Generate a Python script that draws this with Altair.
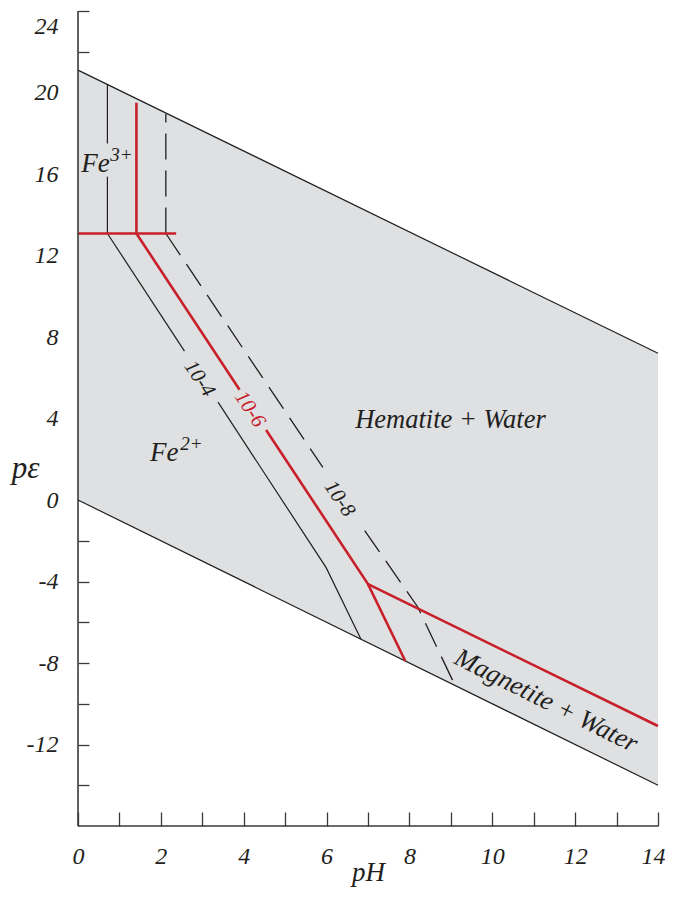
import altair as alt
import pandas as pd

# ---------------- data ----------------
ph_ticks = list(range(0, 15))
pe_ticks = list(range(-14, 25, 2))

# water stability limits
water_ph = [0, 14]
water_upper_pe = [21.1, 7.2]
water_lower_pe = [0.0, -14.0]

# boundary lines: name, style, pH points, pe points
seg_names = ["fe3_fe2", "v4a", "v4b", "v6", "v8",
             "d4a", "d4b", "d6a", "d6b", "hem_mag", "d8a", "d8b",
             "w_up", "w_lo"]
seg_style = ["red", "black", "black", "red", "dash",
             "black", "black", "red", "red", "red", "dash", "dash",
             "black", "black"]
seg_ph = [[0, 2.37], [0.71, 0.71], [0.71, 0.71], [1.41, 1.41], [2.12, 2.12],
          [0.71, 2.57], [3.38, 5.99, 6.83], [1.41, 3.90], [4.54, 7.0, 7.9],
          [7.0, 14.0], [2.12, 5.91], [6.92, 8.2, 9.1],
          [0, 14], [0, 14]]
seg_pe = [[13.08, 13.08], [13.08, 15.87], [17.5, 20.4], [13.08, 19.5], [13.08, 18.95],
          [13.08, 7.31], [4.80, -3.32, -6.83], [13.08, 5.41], [3.44, -4.13, -7.9],
          [-4.13, -11.09], [13.08, 1.6], [-1.5, -5.25, -9.1],
          [21.1, 7.2], [0.0, -14.0]]

# labels
lab_text = ["Fe", "3+", "Fe", "2+", "Hematite + Water", "Magnetite + Water", "10-4", "10-6", "10-8"]
lab_ph = [0.42, 1.05, 2.08, 2.74, 8.99, 11.3, 2.93, 4.15, 6.31]
lab_pe = [16.5, 16.95, 2.3, 2.75, 3.95, -9.85, 5.95, 4.45, 0.06]
lab_angle = [0, 0, 0, 0, 0, 26.5, 56.5, 56.5, 56]
lab_color = ["#231f20", "#231f20", "#231f20", "#231f20", "#231f20", "#231f20",
             "#231f20", "#c8202a", "#231f20"]
lab_size = [27, 19, 27, 19, 26.5, 26.5, 21, 21, 21]

# ---------------- build tables ----------------
rows = []
for name, style, xs, ys in zip(seg_names, seg_style, seg_ph, seg_pe):
    for i, (x, y) in enumerate(zip(xs, ys)):
        rows.append({"seg": name, "style": style, "idx": i, "ph": x, "pe": y})
lines = pd.DataFrame(rows)

area_df = pd.DataFrame({"ph": water_ph, "up": water_upper_pe, "lo": water_lower_pe})
labels = pd.DataFrame({"text": lab_text, "ph": lab_ph, "pe": lab_pe,
                       "angle": lab_angle, "color": lab_color, "size": lab_size})

FONT = "Liberation Serif"
INK = "#231f20"
AXC = "#3a3a3a"

xscale = alt.Scale(domain=[0, 14], nice=False, zero=False)
yscale = alt.Scale(domain=[-16, 24], nice=False, zero=False)

xaxis = alt.Axis(values=ph_ticks, labelExpr="datum.value % 2 == 0 ? datum.label : ''",
                 domain=False, grid=False, tickSize=14, offset=-14, tickColor=AXC, tickWidth=1.3,
                 labelPadding=18, labelFont=FONT, labelFontStyle="italic", labelFontSize=24,
                 labelColor=INK, labelAngle=0, labelFlush=False, labelOverlap=False,
                 labelOffset={"condition": {"test": "datum.value === 14", "value": -5}, "value": 0},
                 title="pH", titleFont=FONT, titleFontStyle="italic", titleFontWeight="normal",
                 titleFontSize=27, titleColor=INK, titlePadding=-9)
yaxis = alt.Axis(values=pe_ticks,
                 labelExpr="datum.value % 4 == 0 ? replace(datum.label, '\u2212', '-') : ''",
                 domain=False, grid=False, tickSize=11, offset=-11, tickColor=AXC, tickWidth=1.3,
                 labelPadding=20, labelFont=FONT, labelFontStyle="italic", labelFontSize=24,
                 labelColor=INK, labelFlush=False, labelOverlap=False,
                 labelOffset={"condition": {"test": "datum.value === 24", "value": 15}, "value": 0},
                 title="pε", titleFont=FONT, titleFontStyle="italic", titleFontWeight="normal",
                 titleFontSize=31, titleColor=INK, titleAngle=0, titleAlign="center",
                 titleBaseline="middle", titleX=-64, titleY=457)

area = alt.Chart(area_df).mark_area(color="#dfe0e2", opacity=1).encode(
    x=alt.X("ph:Q", scale=xscale, axis=xaxis),
    y=alt.Y("up:Q", scale=yscale, axis=yaxis),
    y2="lo:Q",
)

def line_layer(style, color, width, dash=None):
    kw = dict(color=color, strokeWidth=width)
    if dash:
        kw["strokeDash"] = dash
    return alt.Chart(lines[lines["style"] == style]).mark_line(**kw).encode(
        x=alt.X("ph:Q", scale=xscale),
        y=alt.Y("pe:Q", scale=yscale),
        detail="seg:N",
        order="idx:Q",
    )

black = line_layer("black", "#1f1f1f", 1.2)
dashed = line_layer("dash", "#1f1f1f", 1.3, [26, 11])
red = line_layer("red", "#c8202a", 2.6)

axis_lines = pd.DataFrame({"x": [0, 0], "x2": [14, 0], "y": [-16, -16], "y2": [-16, 24]})
axes = alt.Chart(axis_lines).mark_rule(color=AXC, strokeWidth=1.6).encode(
    x=alt.X("x:Q", scale=xscale), x2="x2:Q",
    y=alt.Y("y:Q", scale=yscale), y2="y2:Q",
)

text = alt.Chart(labels).mark_text(font=FONT, fontStyle="italic", align="center",
                                   baseline="middle").encode(
    x=alt.X("ph:Q", scale=xscale),
    y=alt.Y("pe:Q", scale=yscale),
    text="text:N",
    angle=alt.Angle("angle:Q", scale=None),
    color=alt.Color("color:N", scale=None),
    size=alt.Size("size:Q", scale=None),
)

chart = alt.layer(area, black, dashed, red, axes, text).properties(
    width=580, height=815,
    autosize=alt.AutoSizeParams(type="none"),
    padding={"left": 70, "top": 3, "right": 7, "bottom": 63},
).configure_view(stroke=None)

chart.save("out.html", embed_options={"renderer": "svg", "actions": False})
